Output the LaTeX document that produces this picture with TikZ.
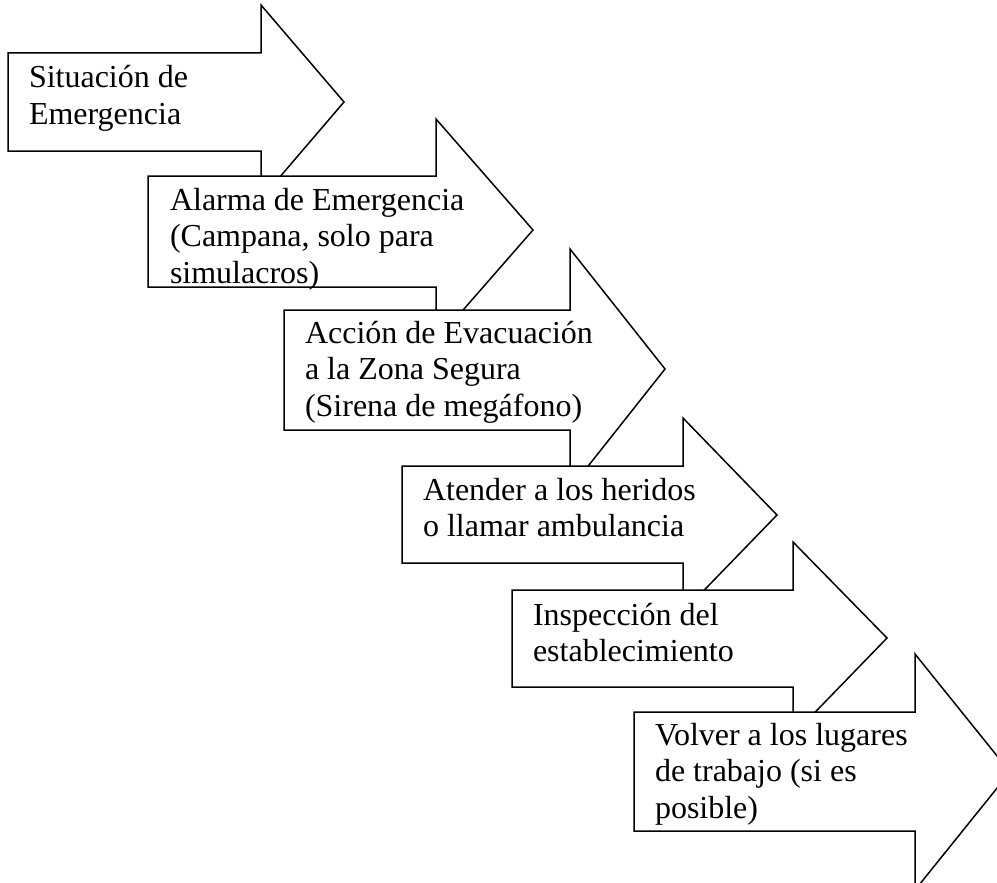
\documentclass[tikz,border=0pt]{standalone}
\usepackage{fontspec}
\setmainfont{Liberation Serif}
\begin{document}
\begin{tikzpicture}[x=1pt,y=-1pt,
  arrowbox/.style={draw=black,fill=white,line width=1.5pt,line join=miter},
  lbl/.style={anchor=base west,inner sep=0pt,outer sep=0pt}]
\useasboundingbox (0,0) rectangle (997,883);
\clip (0,0) rectangle (997,883);
\newcommand\blockarrow[8]{%
  \draw[arrowbox] (#1,#2) -- (#4,#2) -- (#4,#5) -- (#7,#8) -- (#4,#6) -- (#4,#3) -- (#1,#3) -- cycle;}
\newcommand\arrowtext[1]{\parbox[t]{400pt}{\fontsize{32}{36.6}\selectfont\raggedright #1}}
% left, top, bottom, shaft end, head top, head bottom, tip x, tip y
\blockarrow{8}{53}{151}{261}{5}{199}{344}{102}
\node[lbl] (t1) at (29,88) {\arrowtext{Situación de\\Emergencia}};
\blockarrow{148}{176}{287}{436}{119}{341}{533}{230}
\node[lbl] (t2) at (170,210) {\arrowtext{Alarma de Emergencia\\(Campana, solo para\\simulacros)}};
\blockarrow{284}{310}{430}{570}{249}{489}{665}{369}
\node[lbl] (t3) at (305,343) {\arrowtext{Acción de Evacuación\\a la Zona Segura\\(Sirena de megáfono)}};
\blockarrow{402}{466}{563}{683}{418}{612}{777}{515}
\node[lbl] (t4) at (423,500) {\arrowtext{Atender a los heridos\\o llamar ambulancia}};
\blockarrow{512}{590}{687}{793}{542}{735}{887}{638}
\node[lbl] (t5) at (533,625) {\arrowtext{Inspección del\\establecimiento}};
\blockarrow{634}{712}{831}{915}{654}{890}{1010}{772}
\node[lbl] (t6) at (655,745) {\arrowtext{Volver a los lugares\\de trabajo (si es\\posible)}};
\end{tikzpicture}
\end{document}
